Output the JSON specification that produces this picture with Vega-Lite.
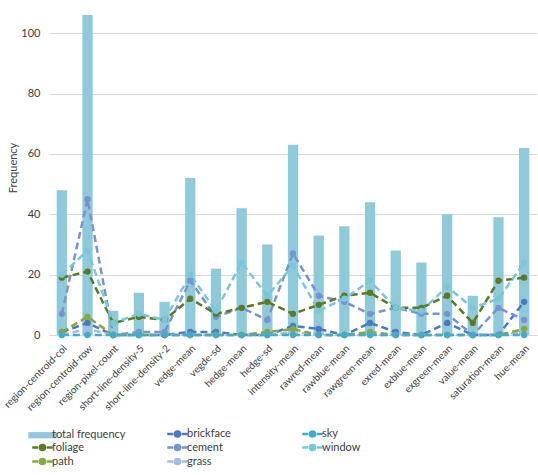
{
  "$schema": "https://vega.github.io/schema/vega-lite/v6.json",
  "autosize": {"type": "none"},
  "width": 488,
  "height": 335,
  "padding": {"left": 49, "top": 0, "right": 1, "bottom": 140},
  "background": "white",
  "config": {
    "view": {"stroke": null},
    "font": "Lato",
    "axis": {"labelFont": "Lato", "titleFont": "Lato", "labelColor": "#404040", "titleColor": "#404040"},
    "legend": {"labelFont": "Lato"}
  },
  "data": {
    "values": [
      {"feature": "region-centroid-col", "class": "total frequency", "count": 48},
      {"feature": "region-centroid-row", "class": "total frequency", "count": 106},
      {"feature": "region-pixel-count", "class": "total frequency", "count": 8},
      {"feature": "short-line-density-5", "class": "total frequency", "count": 14},
      {"feature": "short-line-density-2", "class": "total frequency", "count": 11},
      {"feature": "vedge-mean", "class": "total frequency", "count": 52},
      {"feature": "vegde-sd", "class": "total frequency", "count": 22},
      {"feature": "hedge-mean", "class": "total frequency", "count": 42},
      {"feature": "hedge-sd", "class": "total frequency", "count": 30},
      {"feature": "intensity-mean", "class": "total frequency", "count": 63},
      {"feature": "rawred-mean", "class": "total frequency", "count": 33},
      {"feature": "rawblue-mean", "class": "total frequency", "count": 36},
      {"feature": "rawgreen-mean", "class": "total frequency", "count": 44},
      {"feature": "exred-mean", "class": "total frequency", "count": 28},
      {"feature": "exblue-mean", "class": "total frequency", "count": 24},
      {"feature": "exgreen-mean", "class": "total frequency", "count": 40},
      {"feature": "value-mean", "class": "total frequency", "count": 13},
      {"feature": "saturation-mean", "class": "total frequency", "count": 39},
      {"feature": "hue-mean", "class": "total frequency", "count": 62},

      {"feature": "region-centroid-col", "class": "brickface", "count": 1},
      {"feature": "region-centroid-row", "class": "brickface", "count": 4},
      {"feature": "region-pixel-count", "class": "brickface", "count": 0},
      {"feature": "short-line-density-5", "class": "brickface", "count": 0},
      {"feature": "short-line-density-2", "class": "brickface", "count": 0},
      {"feature": "vedge-mean", "class": "brickface", "count": 1},
      {"feature": "vegde-sd", "class": "brickface", "count": 1},
      {"feature": "hedge-mean", "class": "brickface", "count": 0},
      {"feature": "hedge-sd", "class": "brickface", "count": 0},
      {"feature": "intensity-mean", "class": "brickface", "count": 3},
      {"feature": "rawred-mean", "class": "brickface", "count": 2},
      {"feature": "rawblue-mean", "class": "brickface", "count": 0},
      {"feature": "rawgreen-mean", "class": "brickface", "count": 4},
      {"feature": "exred-mean", "class": "brickface", "count": 1},
      {"feature": "exblue-mean", "class": "brickface", "count": 0},
      {"feature": "exgreen-mean", "class": "brickface", "count": 4},
      {"feature": "value-mean", "class": "brickface", "count": 0},
      {"feature": "saturation-mean", "class": "brickface", "count": 0},
      {"feature": "hue-mean", "class": "brickface", "count": 11},

      {"feature": "region-centroid-col", "class": "cement", "count": 7},
      {"feature": "region-centroid-row", "class": "cement", "count": 45},
      {"feature": "region-pixel-count", "class": "cement", "count": 0},
      {"feature": "short-line-density-5", "class": "cement", "count": 1},
      {"feature": "short-line-density-2", "class": "cement", "count": 1},
      {"feature": "vedge-mean", "class": "cement", "count": 18},
      {"feature": "vegde-sd", "class": "cement", "count": 6},
      {"feature": "hedge-mean", "class": "cement", "count": 9},
      {"feature": "hedge-sd", "class": "cement", "count": 5},
      {"feature": "intensity-mean", "class": "cement", "count": 27},
      {"feature": "rawred-mean", "class": "cement", "count": 13},
      {"feature": "rawblue-mean", "class": "cement", "count": 11},
      {"feature": "rawgreen-mean", "class": "cement", "count": 7},
      {"feature": "exred-mean", "class": "cement", "count": 9},
      {"feature": "exblue-mean", "class": "cement", "count": 7},
      {"feature": "exgreen-mean", "class": "cement", "count": 7},
      {"feature": "value-mean", "class": "cement", "count": 0},
      {"feature": "saturation-mean", "class": "cement", "count": 9},
      {"feature": "hue-mean", "class": "cement", "count": 5},

      {"feature": "region-centroid-col", "class": "foliage", "count": 19},
      {"feature": "region-centroid-row", "class": "foliage", "count": 21},
      {"feature": "region-pixel-count", "class": "foliage", "count": 4},
      {"feature": "short-line-density-5", "class": "foliage", "count": 6},
      {"feature": "short-line-density-2", "class": "foliage", "count": 5},
      {"feature": "vedge-mean", "class": "foliage", "count": 12},
      {"feature": "vegde-sd", "class": "foliage", "count": 7},
      {"feature": "hedge-mean", "class": "foliage", "count": 9},
      {"feature": "hedge-sd", "class": "foliage", "count": 11},
      {"feature": "intensity-mean", "class": "foliage", "count": 7},
      {"feature": "rawred-mean", "class": "foliage", "count": 10},
      {"feature": "rawblue-mean", "class": "foliage", "count": 13},
      {"feature": "rawgreen-mean", "class": "foliage", "count": 14},
      {"feature": "exred-mean", "class": "foliage", "count": 9},
      {"feature": "exblue-mean", "class": "foliage", "count": 9},
      {"feature": "exgreen-mean", "class": "foliage", "count": 13},
      {"feature": "value-mean", "class": "foliage", "count": 4},
      {"feature": "saturation-mean", "class": "foliage", "count": 18},
      {"feature": "hue-mean", "class": "foliage", "count": 19},

      {"feature": "region-centroid-col", "class": "grass", "count": 0},
      {"feature": "region-centroid-row", "class": "grass", "count": 2},
      {"feature": "region-pixel-count", "class": "grass", "count": 0},
      {"feature": "short-line-density-5", "class": "grass", "count": 0},
      {"feature": "short-line-density-2", "class": "grass", "count": 0},
      {"feature": "vedge-mean", "class": "grass", "count": 0},
      {"feature": "vegde-sd", "class": "grass", "count": 0},
      {"feature": "hedge-mean", "class": "grass", "count": 0},
      {"feature": "hedge-sd", "class": "grass", "count": 0},
      {"feature": "intensity-mean", "class": "grass", "count": 1},
      {"feature": "rawred-mean", "class": "grass", "count": 0},
      {"feature": "rawblue-mean", "class": "grass", "count": 0},
      {"feature": "rawgreen-mean", "class": "grass", "count": 0},
      {"feature": "exred-mean", "class": "grass", "count": 0},
      {"feature": "exblue-mean", "class": "grass", "count": 0},
      {"feature": "exgreen-mean", "class": "grass", "count": 0},
      {"feature": "value-mean", "class": "grass", "count": 0},
      {"feature": "saturation-mean", "class": "grass", "count": 0},
      {"feature": "hue-mean", "class": "grass", "count": 1},

      {"feature": "region-centroid-col", "class": "path", "count": 1},
      {"feature": "region-centroid-row", "class": "path", "count": 6},
      {"feature": "region-pixel-count", "class": "path", "count": 0},
      {"feature": "short-line-density-5", "class": "path", "count": 0},
      {"feature": "short-line-density-2", "class": "path", "count": 0},
      {"feature": "vedge-mean", "class": "path", "count": 0},
      {"feature": "vegde-sd", "class": "path", "count": 0},
      {"feature": "hedge-mean", "class": "path", "count": 0},
      {"feature": "hedge-sd", "class": "path", "count": 1},
      {"feature": "intensity-mean", "class": "path", "count": 2},
      {"feature": "rawred-mean", "class": "path", "count": 0},
      {"feature": "rawblue-mean", "class": "path", "count": 0},
      {"feature": "rawgreen-mean", "class": "path", "count": 1},
      {"feature": "exred-mean", "class": "path", "count": 0},
      {"feature": "exblue-mean", "class": "path", "count": 0},
      {"feature": "exgreen-mean", "class": "path", "count": 0},
      {"feature": "value-mean", "class": "path", "count": 0},
      {"feature": "saturation-mean", "class": "path", "count": 0},
      {"feature": "hue-mean", "class": "path", "count": 2},

      {"feature": "region-centroid-col", "class": "sky", "count": 0},
      {"feature": "region-centroid-row", "class": "sky", "count": 0},
      {"feature": "region-pixel-count", "class": "sky", "count": 0},
      {"feature": "short-line-density-5", "class": "sky", "count": 0},
      {"feature": "short-line-density-2", "class": "sky", "count": 0},
      {"feature": "vedge-mean", "class": "sky", "count": 0},
      {"feature": "vegde-sd", "class": "sky", "count": 0},
      {"feature": "hedge-mean", "class": "sky", "count": 0},
      {"feature": "hedge-sd", "class": "sky", "count": 0},
      {"feature": "intensity-mean", "class": "sky", "count": 0},
      {"feature": "rawred-mean", "class": "sky", "count": 0},
      {"feature": "rawblue-mean", "class": "sky", "count": 0},
      {"feature": "rawgreen-mean", "class": "sky", "count": 0},
      {"feature": "exred-mean", "class": "sky", "count": 0},
      {"feature": "exblue-mean", "class": "sky", "count": 0},
      {"feature": "exgreen-mean", "class": "sky", "count": 0},
      {"feature": "value-mean", "class": "sky", "count": 0},
      {"feature": "saturation-mean", "class": "sky", "count": 0},
      {"feature": "hue-mean", "class": "sky", "count": 0},

      {"feature": "region-centroid-col", "class": "window", "count": 20},
      {"feature": "region-centroid-row", "class": "window", "count": 28},
      {"feature": "region-pixel-count", "class": "window", "count": 4},
      {"feature": "short-line-density-5", "class": "window", "count": 7},
      {"feature": "short-line-density-2", "class": "window", "count": 5},
      {"feature": "vedge-mean", "class": "window", "count": 20},
      {"feature": "vegde-sd", "class": "window", "count": 8},
      {"feature": "hedge-mean", "class": "window", "count": 24},
      {"feature": "hedge-sd", "class": "window", "count": 13},
      {"feature": "intensity-mean", "class": "window", "count": 23},
      {"feature": "rawred-mean", "class": "window", "count": 8},
      {"feature": "rawblue-mean", "class": "window", "count": 12},
      {"feature": "rawgreen-mean", "class": "window", "count": 18},
      {"feature": "exred-mean", "class": "window", "count": 9},
      {"feature": "exblue-mean", "class": "window", "count": 8},
      {"feature": "exgreen-mean", "class": "window", "count": 16},
      {"feature": "value-mean", "class": "window", "count": 9},
      {"feature": "saturation-mean", "class": "window", "count": 12},
      {"feature": "hue-mean", "class": "window", "count": 24}
    ]
  },
  "encoding": {
    "x": {
      "field": "feature",
      "type": "nominal",
      "sort": null,
      "scale": {"paddingInner": 0.6, "paddingOuter": 0.3},
      "axis": {
        "title": null,
        "labelAngle": -45,
        "labelFontSize": 10,
        "labelPadding": 8,
        "ticks": false,
        "domainColor": "#d9d9d9",
        "labelLimit": 200
      }
    },
    "y": {
      "field": "count",
      "type": "quantitative",
      "scale": {"domain": [0, 111], "nice": false},
      "axis": {
        "title": "Frequency",
        "titleFontSize": 11,
        "titleFontWeight": "normal",
        "titlePadding": 2,
        "values": [0, 20, 40, 60, 80, 100],
        "labelFontSize": 11,
        "labelPadding": 9,
        "domain": false,
        "ticks": false,
        "gridColor": "#d9d9d9"
      }
    },
    "color": {
      "field": "class",
      "type": "nominal",
      "scale": {
        "domain": ["total frequency", "brickface", "sky", "foliage", "cement", "window", "path", "grass"],
        "range": ["#8fcadb", "#4a78c4", "#40abca", "#5b7a22", "#7893d2", "#78c8da", "#87a840", "#a6bbe6"]
      },
      "legend": {
        "title": null,
        "orient": "none",
        "legendX": -12,
        "legendY": 428,
        "direction": "horizontal",
        "columns": 3,
        "gridAlign": "all",
        "columnPadding": 36,
        "rowPadding": -3,
        "labelFontSize": 11,
        "labelColor": "#404040",
        "labelOffset": 4,
        "symbolSize": 810,
        "symbolStrokeWidth": 2.5,
        "encode": {
          "symbols": {
            "update": {
              "shape": {"signal": "datum.value === 'total frequency' ? 'M-1,-0.22H1V0.22H-1Z' : 'M-0.72,0H-0.3M0.3,0H0.72M-0.18,0A0.18,0.18 0 1,1 0.18,0A0.18,0.18 0 1,1 -0.18,0Z'"},
              "fill": {"signal": "scale('color', datum.value)"},
              "stroke": {"signal": "scale('color', datum.value)"},
              "strokeWidth": {"signal": "datum.value === 'total frequency' ? 0 : 2.5"},
              "fillOpacity": {"value": 1}
            }
          }
        }
      }
    }
  },
  "layer": [
    {
      "transform": [{"filter": "datum['class'] === 'total frequency'"}],
      "mark": {"type": "bar"}
    },
    {
      "transform": [{"filter": "datum['class'] !== 'total frequency'"}],
      "mark": {
        "type": "line",
        "strokeWidth": 2.5,
        "strokeDash": [7, 4],
        "point": {"filled": true, "size": 40}
      }
    }
  ]
}
